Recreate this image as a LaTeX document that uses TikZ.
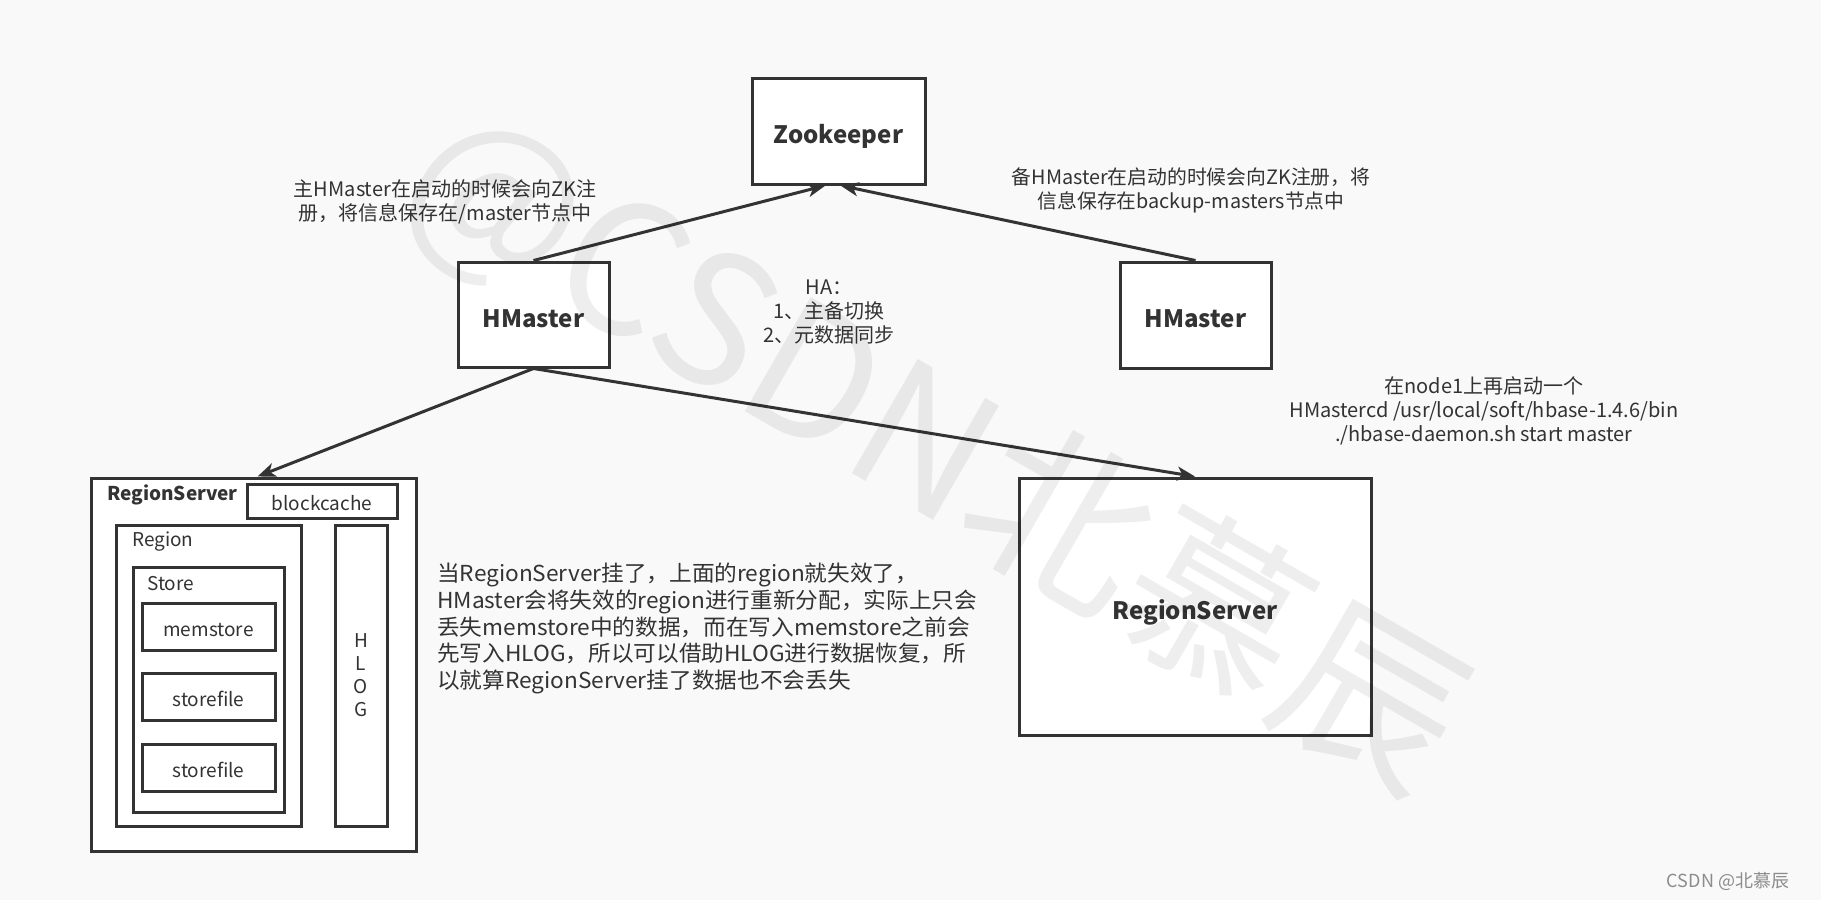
\documentclass[tikz,border=0pt]{standalone}
\usepackage{fontspec}
\setmainfont{Noto Sans CJK SC}
\newfontfamily\parafont{Noto Sans CJK SC}[FakeStretch=1.03]
\usetikzlibrary{arrows.meta}
\definecolor{ink}{HTML}{333333}
\definecolor{bg}{HTML}{F9F9F9}
\tikzset{
  x=1pt,y=-1pt,
  box/.style={draw=ink,line width=3pt,fill=white,rectangle,inner sep=0pt,text=ink},
  bigbox/.style={box,font=\fontsize{24}{28}\selectfont\bfseries,text height=25.5pt,text depth=0pt},
  smallbox/.style={box,font=\fontsize{19}{23}\selectfont,text height=19pt,text depth=0pt},
  lbl/.style={inner sep=0pt,text=ink,font=\fontsize{19}{23}\selectfont},
  note/.style={inner sep=0pt,text=ink,align=center,font=\fontsize{20}{24}\selectfont},
  arr/.style={draw=ink,line width=3pt,-{Stealth[length=18pt,width=14pt,inset=5pt]}},
}
\begin{document}
\begin{tikzpicture}
\fill[bg] (0,0) rectangle (1821,900);
\useasboundingbox (0,0) rectangle (1821,900);

% main nodes
\node[bigbox,minimum width=173pt,minimum height=106pt] (zk) at (838.5,131) {Zookeeper};
\node[bigbox,minimum width=151pt,minimum height=105pt] (hm1) at (533.5,314.5) {HMaster};
\node[bigbox,minimum width=151pt,minimum height=106pt] (hm2) at (1195.5,315) {HMaster};
\node[bigbox,minimum width=352pt,minimum height=257pt] (rs2) at (1195,606.5) {RegionServer};

% left region server
\node[box,minimum width=325pt,minimum height=373pt] (rs1) at (253.5,664.5) {};
\node[lbl,anchor=west,font=\fontsize{19}{23}\selectfont\bfseries] (rs1lbl) at (107,494.5) {RegionServer};
\node[smallbox,minimum width=150pt,minimum height=34pt] (bc) at (322,501) {blockcache};
\node[box,minimum width=185pt,minimum height=301pt] (region) at (208.5,675.5) {};
\node[lbl,anchor=west] (regionlbl) at (132,542) {Region};
\node[box,minimum width=151pt,minimum height=245pt] (store) at (208.5,689.5) {};
\node[lbl,anchor=west] (storelbl) at (147,583.5) {Store};
\node[smallbox,minimum width=133pt,minimum height=47pt] (mem) at (208.5,626.5) {memstore};
\node[smallbox,minimum width=133pt,minimum height=47pt] (sf1) at (208.5,696.5) {storefile};
\node[smallbox,minimum width=133pt,minimum height=47pt] (sf2) at (208.5,767.5) {storefile};
\node[box,minimum width=52pt,minimum height=301pt,align=center,font=\fontsize{19}{23}\selectfont] (hlog) at (361,675.5) {H\\L\\O\\G};

% connectors
\draw[arr] (hm1.north) -- ([xshift=-13pt]zk.south);
\draw[arr] (hm2.north) -- ([xshift=2pt]zk.south);
\draw[arr] (hm1.south) -- ([xshift=4pt]rs1.north);
\draw[arr] (hm1.south) -- (rs2.north);

% notes
\node[note] (n1) at (445,201.5) {主HMaster在启动的时候会向ZK注\\册，将信息保存在/master节点中};
\node[note,font=\fontsize{19.8}{24}\selectfont] (n2) at (1191,190.5) {备HMaster在启动的时候会向ZK注册，将\\信息保存在backup-masters节点中};
\node[note] (ha) at (829,312) {HA：\\1、主备切换\\2、元数据同步};
\node[note] (n3) at (1484,410.5) {在node1上再启动一个\\HMastercd /usr/local/soft/hbase-1.4.6/bin\\./hbase-daemon.sh start master};
\node[inner sep=0pt,text=ink,align=left,anchor=west,font=\parafont\fontsize{22}{26.8}\selectfont] (para) at (437,628.5) {当RegionServer挂了，上面的region就失效了，\\HMaster会将失效的region进行重新分配，实际上只会\\丢失memstore中的数据，而在写入memstore之前会\\先写入HLOG，所以可以借助HLOG进行数据恢复，所\\以就算RegionServer挂了数据也不会丢失};

% watermark
\node[inner sep=0pt,rotate=-30,text=black,text opacity=0.065,font=\fontsize{180}{180}\selectfont] (wm) at (935,452) {@CSDN北慕辰};
\node[inner sep=0pt,text=black!45,font=\fontsize{18}{20}\selectfont] (wm2) at (1728,881) {CSDN @北慕辰};
\end{tikzpicture}
\end{document}
